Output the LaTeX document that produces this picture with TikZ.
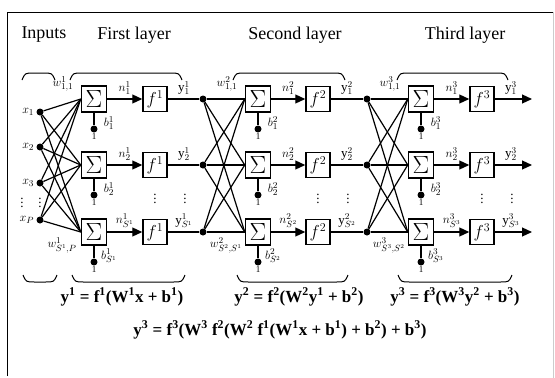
\documentclass[tikz,border=0pt]{standalone}
\usepackage{fontspec}
\setmainfont{Liberation Serif}
\usetikzlibrary{arrows.meta}
\newcommand{\tsup}[1]{\textsuperscript{#1}}
\tikzset{
  sumbox/.style={draw,line width=1.5pt,minimum width=25pt,minimum height=26pt,inner sep=0pt,font=\fontsize{27}{27}\selectfont},
  funbox/.style={draw,line width=1.5pt,minimum width=24pt,minimum height=25pt,inner sep=0pt,font=\fontsize{17}{17}\selectfont},
  dot/.style={circle,fill=black,inner sep=0pt,minimum size=7pt},
  wire/.style={line width=1.2pt},
  lbl/.style={font=\fontsize{13}{13}\selectfont,inner sep=1pt},
  title/.style={font=\fontsize{18}{18}\selectfont},
  eqn/.style={font=\fontsize{17}{17}\selectfont\bfseries},
  brace/.style={line width=1pt},
}
\begin{document}
\begin{tikzpicture}[x=1pt,y=-1pt]
  \useasboundingbox (0,0) rectangle (555,378);
  \draw[line width=0.8pt] (7,376) -- (7,12) -- (553,12);
  \draw[gray!40] (553,12) -- (553,378);
  % titles
  \node[title] (tin) at (44,35) {Inputs};
  \node[title] (tl1) at (134,35) {First layer};
  \node[title] (tl2) at (295,35) {Second layer};
  \node[title] (tl3) at (465,35) {Third layer};
  % braces
  \foreach \a/\b in {22/55,70/182,233/345,397/508}
  {
    \draw[brace] (\a,80) .. controls (\a+3,73) .. (\a+12,73) -- (\b-12,73) .. controls (\b-3,73) .. (\b,80);
  }
  \foreach \a/\b in {23/57,72/185,237/348,398/512}
  {
    \draw[brace] (\a,275) .. controls (\a+3,282) .. (\a+12,282) -- (\b-12,282) .. controls (\b-3,282) .. (\b,275);
  }
  % inputs
  \foreach \i/\y/\t in {1/112/1,2/147/2,3/183/3,4/220/P}
  {
    \node[dot,label={[lbl,xshift=-1pt]left:$x_{\t}$}] (in\i) at (40,\y) {};
  }
  \node[lbl] at (22,200) {$\vdots$};
  \node[lbl] at (40,200) {$\vdots$};
  % layers
  \foreach \l/\sx/\fx/\p in {1/94/155/P,2/258/318/S^{1},3/421/482/S^{2}}
  {
    \foreach \r/\y/\s in {a/99/1,b/165/2,c/232/S^{\l}}
    {
      \node[sumbox] (s\l\r) at (\sx,\y) {$\Sigma$};
      \node[funbox] (f\l\r) at (\fx,\y) {$f^{\l}$};
      \node[dot,label={[lbl,font=\fontsize{9}{9}\selectfont,inner sep=0.5pt]below:1}] (b\l\r) at (\sx,\y+30) {};
      \draw[wire] (s\l\r) -- (b\l\r);
      \node[lbl] at (\sx+15,\y+24) {$b^{\l}_{\s}$};
      \draw[wire,-{Triangle[length=10pt,width=9pt]}] (s\l\r) -- (f\l\r) node[lbl,midway,above=3pt] {$n^{\l}_{\s}$};
      \node[lbl] at (\fx+29,\y-11) {$\mathrm{y}^{\l}_{\s}$};
    }
    \node[lbl] (wa\l) at (\sx-31,84) {$w^{\l}_{1,1}$};
    \node[lbl] (wc\l) at (\sx-32,245) {$w^{\l}_{S^{\l},\p}$};
    \node[lbl] at (\fx,196) {$\vdots$};
    \node[lbl] at (\fx+30,196) {$\vdots$};
  }
  % outputs
  \foreach \r/\y in {a/99,b/165,c/232}
  {
    \node[dot] (d1\r) at (203,\y) {};
    \node[dot] (d2\r) at (367,\y) {};
    \coordinate (o\r) at (532,\y);
    \draw[wire] (f1\r) -- (d1\r);
    \draw[wire] (f2\r) -- (d2\r);
    \draw[wire,-{Triangle[length=10pt,width=9pt]}] (f3\r) -- (o\r);
  }
  % weights
  \foreach \r in {a,b,c}
  {
    \foreach \i in {1,...,4}
    {
      \draw[wire] (in\i) -- (s1\r.west);
    }
    \foreach \k in {a,b,c}
    {
      \draw[wire] (d1\k) -- (s2\r.west);
      \draw[wire] (d2\k) -- (s3\r.west);
    }
  }
  % equations
  \node[eqn] (eq1) at (122,297) {y\tsup{1} = f\tsup{1}(W\tsup{1}x + b\tsup{1})};
  \node[eqn] (eq2) at (299,297) {y\tsup{2} = f\tsup{2}(W\tsup{2}y\tsup{1} + b\tsup{2})};
  \node[eqn] (eq3) at (455,297) {y\tsup{3} = f\tsup{3}(W\tsup{3}y\tsup{2} + b\tsup{3})};
  \node[eqn] (eq4) at (280,330) {y\tsup{3} = f\tsup{3}(W\tsup{3} f\tsup{2}(W\tsup{2} f\tsup{1}(W\tsup{1}x + b\tsup{1}) + b\tsup{2}) + b\tsup{3})};
\end{tikzpicture}
\end{document}
